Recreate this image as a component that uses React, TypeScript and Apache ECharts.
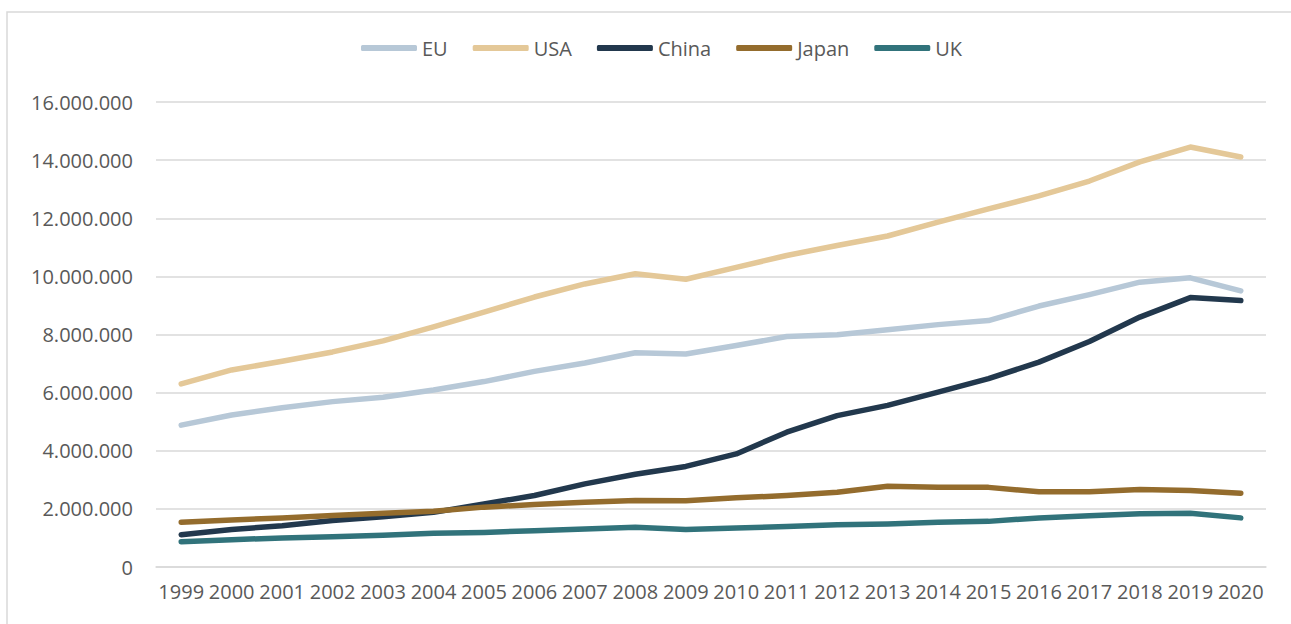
import React, { useEffect, useRef } from "react";
import * as echarts from "echarts";

const years = ["1999","2000","2001","2002","2003","2004","2005","2006","2007","2008","2009","2010","2011","2012","2013","2014","2015","2016","2017","2018","2019","2020"];
const eu = [4880000,5230000,5480000,5690000,5840000,6090000,6380000,6730000,7020000,7370000,7330000,7620000,7930000,7990000,8160000,8340000,8480000,8980000,9370000,9800000,9950000,9500000];
const usa = [6300000,6780000,7080000,7400000,7780000,8260000,8770000,9290000,9740000,10090000,9900000,10310000,10720000,11060000,11390000,11870000,12320000,12770000,13280000,13940000,14450000,14110000];
const china = [1110000,1290000,1420000,1600000,1730000,1880000,2170000,2460000,2860000,3190000,3460000,3890000,4640000,5210000,5560000,6020000,6480000,7050000,7760000,8600000,9270000,9170000];
const japan = [1540000,1620000,1690000,1770000,1850000,1920000,2060000,2150000,2230000,2290000,2280000,2380000,2460000,2570000,2780000,2740000,2740000,2590000,2590000,2670000,2630000,2540000];
const uk = [870000,940000,1000000,1040000,1090000,1160000,1190000,1250000,1310000,1370000,1290000,1340000,1390000,1450000,1480000,1540000,1570000,1690000,1760000,1830000,1850000,1690000];

const seriesNames = ["EU", "USA", "China", "Japan", "UK"];
const seriesData = [eu, usa, china, japan, uk];
const colors = ["#b7c8d7", "#e4c898", "#22384d", "#946c2d", "#31737b"];

const fmt = (v: number) => String(Math.round(v)).replace(/\B(?=(\d{3})+(?!\d))/g, ".");

export default function App() {
  const ref = useRef<HTMLDivElement>(null);
  useEffect(() => {
    if (!ref.current) return;
    const chart = echarts.init(ref.current, undefined, { renderer: "svg" });
    const font = "'Open Sans', 'Noto Sans', sans-serif";
    chart.setOption({
      animation: false,
      backgroundColor: "#ffffff",
      color: colors,
      textStyle: { fontFamily: font, color: "#595959" },
      graphic: [
        {
          type: "rect",
          shape: { x: 7, y: 12, width: 1320, height: 700 },
          style: { fill: "none", stroke: "#d9d9d9", lineWidth: 1.5 },
          silent: true,
        },
      ],
      legend: {
        top: 33,
        left: 356,
        icon: "roundRect",
        itemWidth: 56,
        itemHeight: 6,
        itemGap: 25,
        textStyle: { fontFamily: font, fontSize: 20, color: "#595959" },
        data: seriesNames,
      },
      grid: { left: 156, right: 25, top: 102, bottom: 57, containLabel: false },
      xAxis: {
        type: "category",
        data: years,
        boundaryGap: true,
        axisLine: { show: true, lineStyle: { color: "#d9d9d9", width: 1.5 } },
        axisTick: { show: false },
        axisLabel: { interval: 0, fontSize: 20, color: "#595959", margin: 14, fontFamily: font },
      },
      yAxis: {
        type: "value",
        min: 0,
        max: 16000000,
        interval: 2000000,
        axisLine: { show: false },
        axisTick: { show: false },
        splitLine: { lineStyle: { color: "#d9d9d9", width: 1.5 } },
        axisLabel: { fontSize: 20, color: "#595959", margin: 23, fontFamily: font, formatter: (v: number) => fmt(v) },
      },
      series: seriesNames.map((name, i) => ({
        name,
        type: "line",
        data: seriesData[i],
        showSymbol: false,
        symbol: "none",
        lineStyle: { width: 5.5, color: colors[i], cap: "round", join: "round" },
        itemStyle: { color: colors[i] },
        z: 2,
      })),
    });
    return () => chart.dispose();
  }, []);
  return (
    <div
      ref={ref}
      style={{ position: "fixed", left: 0, top: 0, width: 1291, height: 624 }}
    />
  );
}
